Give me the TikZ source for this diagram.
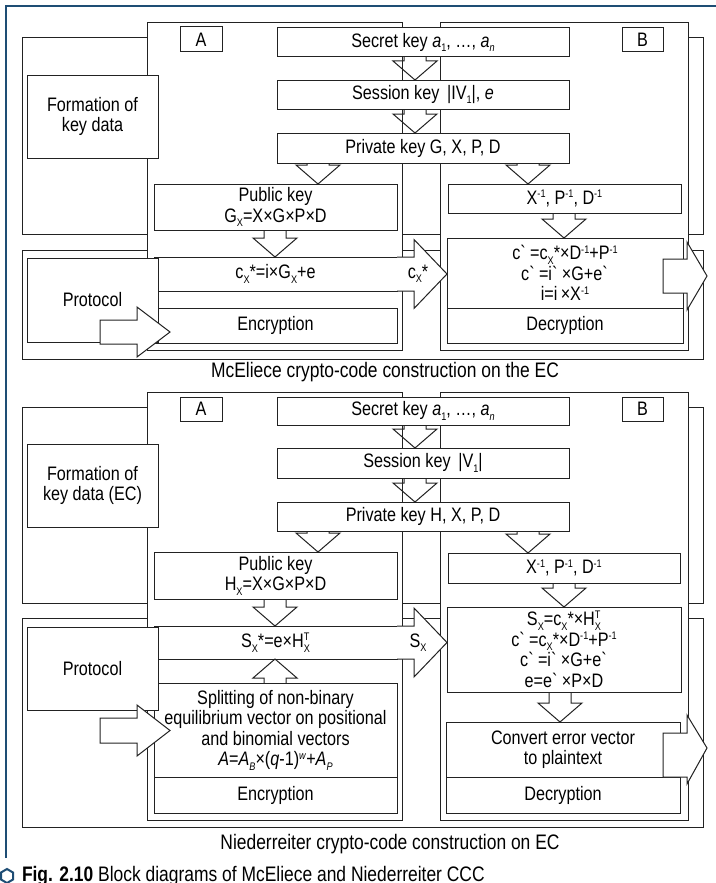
\documentclass[tikz,border=0pt]{standalone}
\usepackage{fontspec}
\setmainfont{Liberation Sans}[FakeStretch=0.83]
\usetikzlibrary{calc}
\definecolor{framecol}{HTML}{1E4D74}
\definecolor{linecol}{HTML}{222222}
\newcommand\scr{\fontsize{11}{11}\selectfont}
\newcommand\mysub[1]{\raisebox{-4.5pt}{\scr #1}}
\newcommand\mysup[1]{\raisebox{6.5pt}{\scr #1}}
\newcommand\mysubsup[2]{\setbox0\hbox{\scr #1}\setbox2\hbox{\scr #2}\rlap{\raisebox{-4.5pt}{\copy0}}\raisebox{7pt}{\copy2}\ifdim\wd0>\wd2 \kern\dimexpr\wd0-\wd2\relax\fi}
\newcommand\gr{\textasciigrave{}}
\tikzset{
  bx/.style={draw=linecol, fill=white, line width=1pt, inner sep=0pt, outer sep=0pt, align=center,
    font=\fontsize{19.5}{20.5}\selectfont},
  arr/.style={draw=linecol, line width=1pt},
  blockarr/.style={draw=linecol, fill=white, line width=1pt, line join=miter},
  txt/.style={inner sep=0pt, outer sep=0pt, font=\fontsize{19.5}{20.5}\selectfont},
  captxt/.style={inner sep=0pt, outer sep=0pt, font=\fontsize{21}{22}\selectfont}
}
% [opts]{name}{x1}{y1}{x2}{y2}{text}
\newcommand\bx[7][]{\node[bx,#1,minimum width={#5pt-#3pt},minimum height={#6pt-#4pt}] (#2) at ({(#3+#5)/2},{(#4+#6)/2}) {#7};}
% down arrow: x, from, to
\newcommand\darr[3]{\draw[arr] let \p1=(#2.south), \p2=(#3.north) in
 (#1pt-11pt,\y1) -- (#1pt-11pt,\y2+19pt) -- (#1pt-22pt,\y2+19pt) -- (#1pt,\y2) -- (#1pt+22pt,\y2+19pt) -- (#1pt+11pt,\y2+19pt) -- (#1pt+11pt,\y1);}
% up arrow: x, from, to
\newcommand\uarr[3]{\draw[arr] let \p1=(#2.north), \p2=(#3.south) in
 (#1pt-11pt,\y1) -- (#1pt-11pt,\y2-19pt) -- (#1pt-22pt,\y2-19pt) -- (#1pt,\y2) -- (#1pt+22pt,\y2-19pt) -- (#1pt+11pt,\y2-19pt) -- (#1pt+11pt,\y1);}
% right arrow between boxes: from, to, label name, label
\newcommand\rarr[4]{\draw[blockarr] let \p1=(#1.north east), \p2=(#1.south east), \p3=(#2.west), \p4=(#1.east) in
 (\x1,\y1) -- (\x3-33pt,\y1) -- (\x3-33pt,\y4+34.5pt) -- (\x3,\y4) -- (\x3-33pt,\y4-34.5pt) -- (\x3-33pt,\y2) -- (\x2,\y2)
 node[txt] (#3) at (\x1+21pt,\y4) {#4};}
\begin{document}
\begin{tikzpicture}[x=1pt,y=-1pt]
\useasboundingbox (0,0) rectangle (715,883);
% frame
\draw[framecol, line width=2.6pt] (6,858) -- (6,6) -- (716,6);
% ================= McEliece =================
\bx{rowFa}{22}{38}{703}{234}{}
\bx{rowPa}{22}{250}{703}{359}{}
\bx{colAa}{147}{23}{402}{350}{}
\bx{colBa}{440}{23}{688}{350}{}
\bx{labAa}{180}{27}{222}{52}{A}
\bx{labBa}{622}{28}{663}{52}{B}
\bx{secreta}{277}{28}{569}{57}{Secret key \textit{a}\mysub{1}, \ldots, \textit{a}\mysub{\textit{n}}}
\bx{sessiona}{277}{80}{569}{109}{Session key \,|IV\mysub{1}|, \textit{e}}
\bx{privatea}{277}{133}{569}{163}{Private key G, X, P, D}
\bx{publica}{154}{184}{397}{230}{Public key\\G\mysub{X}=X×G×P×D}
\bx{xinva}{448}{184}{681}{213}{X\mysup{-1}, P\mysup{-1}, D\mysup{-1}}
\bx{cenca}{154}{257}{397}{291}{c\mysub{X}*=i×G\mysub{X}+e}
\bx{encra}{154}{308}{397}{343}{Encryption}
\bx{dforma}{447}{238}{683}{308}{c\gr\,=c\mysub{X}*×D\mysup{-1}+P\mysup{-1}\\c\gr\,=i\gr\,×G+e\gr\\i=i\,×X\mysup{-1}}
\bx{decra}{447}{308}{683}{343}{Decryption}
\bx{forma}{27}{75}{158}{158}{Formation of\\key data}
\bx{prota}{27}{258}{158}{342}{Protocol}
\node[captxt] (capa) at (385,372) {McEliece crypto-code construction on the EC};
\darr{415}{secreta}{sessiona}
\darr{415}{sessiona}{privatea}
\darr{318}{privatea}{publica}
\darr{528}{privatea}{xinva}
\darr{275}{publica}{cenca}
\darr{564}{xinva}{dforma}
\rarr{cenca}{dforma}{cxlab}{c\mysub{X}*}
\draw[blockarr] (100,320) -- (137,320) -- (137,307) -- (170,332) -- (137,357) -- (137,344) -- (100,344) -- cycle;
\draw[blockarr] (663,259) -- (687,259) -- (687,242) -- (707,276) -- (687,310) -- (687,293) -- (663,293) -- cycle;
% ================= Niederreiter =================
\bx{rowFb}{22}{407}{703}{603}{}
\bx{rowPb}{22}{618}{703}{827}{}
\bx{colAb}{147}{392}{402}{820}{}
\bx{colBb}{440}{392}{688}{820}{}
\bx{labAb}{180}{397}{222}{421}{A}
\bx{labBb}{622}{397}{663}{421}{B}
\bx{secretb}{277}{397}{569}{425}{Secret key \textit{a}\mysub{1}, \ldots, \textit{a}\mysub{\textit{n}}}
\bx{sessionb}{277}{448}{569}{478}{Session key \,|V\mysub{1}|}
\bx{privateb}{277}{502}{569}{531}{Private key H, X, P, D}
\bx{publicb}{154}{552}{397}{599}{Public key\\H\mysub{X}=X×G×P×D}
\bx{xinvb}{448}{553}{680}{583}{X\mysup{-1}, P\mysup{-1}, D\mysup{-1}}
\bx{sboxb}{154}{626}{397}{659}{S\mysub{X}*=e×H\mysubsup{X}{T}}
\bx{splitb}{154}{683}{397}{777}{Splitting of non-binary\\equilibrium vector on positional\\and binomial vectors\\\textit{A}=\textit{A}\mysub{\textit{B}}×(\textit{q}-1)\mysup{\textit{w}}+\textit{A}\mysub{\textit{P}}}
\bx{encrb}{154}{777}{397}{813}{Encryption}
\bx{dformb}{447}{607}{681}{692}{S\mysub{X}=c\mysub{X}*×H\mysubsup{X}{T}\\c\gr\,=c\mysub{X}*×D\mysup{-1}+P\mysup{-1}\\c\gr\,=i\gr\,×G+e\gr\\e=e\gr\,×P×D}
\bx{convb}{446}{722}{680}{777}{Convert error vector\\to plaintext}
\bx{decrb}{446}{777}{680}{813}{Decryption}
\bx{formb}{27}{444}{158}{527}{Formation of\\key data (EC)}
\bx{protb}{27}{627}{158}{710}{Protocol}
\node[captxt] (capb) at (390,844) {Niederreiter crypto-code construction on EC};
\darr{415}{secretb}{sessionb}
\darr{415}{sessionb}{privateb}
\darr{318}{privateb}{publicb}
\darr{528}{privateb}{xinvb}
\darr{275}{publicb}{sboxb}
\uarr{275}{splitb}{sboxb}
\darr{564}{xinvb}{dformb}
\darr{560}{dformb}{convb}
\rarr{sboxb}{dformb}{sxlab}{S\mysub{X}}
\draw[blockarr] (100,718) -- (137,718) -- (137,705) -- (170,730.5) -- (137,756) -- (137,743) -- (100,743) -- cycle;
\draw[blockarr] (663,733) -- (687,733) -- (687,715) -- (707,748) -- (687,784) -- (687,777) -- (663,777) -- cycle;
% ================= figure caption =================
\draw[framecol, line width=2pt] (7,869) -- (13,872.5) -- (13,879.5) -- (7,883) -- (1,879.5) -- (1,872.5) -- cycle;
\node[captxt, anchor=base west] (figcap) at (22,881) {\textbf{Fig. 2.10} Block diagrams of McEliece and Niederreiter CCC};
\end{tikzpicture}
\end{document}
